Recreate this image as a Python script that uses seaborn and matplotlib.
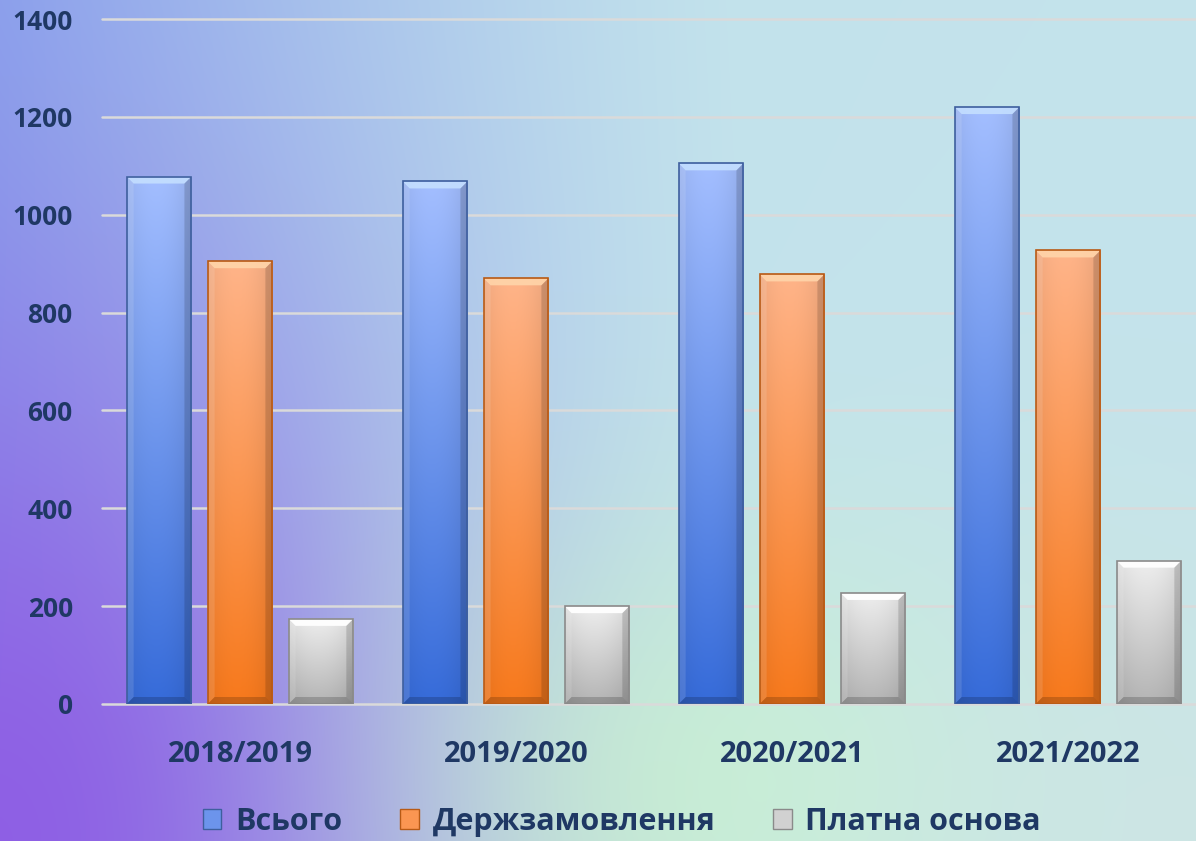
import numpy as np
import pandas as pd
import matplotlib
matplotlib.use("Agg")
import matplotlib.pyplot as plt
import matplotlib.colors as mcolors
from matplotlib.patches import Polygon, Patch
import seaborn as sns

# ---------------- data ----------------
categories = ["2018/2019", "2019/2020", "2020/2021", "2021/2022"]
series_names = ["Всього", "Держзамовлення", "Платна основа"]
total = [1078, 1068, 1105, 1220]
state_order = [905, 870, 878, 927]
paid = [174, 200, 227, 293]
y_ticks = [0, 200, 400, 600, 800, 1000, 1200, 1400]

# ---------------- style ----------------
sns.set_theme(style="white")
plt.rcParams["font.family"] = ["Open Sans", "DejaVu Sans"]
plt.rcParams["font.weight"] = "bold"
text_color = "#1F3864"

grad_top = {"Всього": "#A3BEFF", "Держзамовлення": "#FFB489", "Платна основа": "#EEEEEE"}
grad_bot = {"Всього": "#366BD9", "Держзамовлення": "#F7791C", "Платна основа": "#B4B4B4"}
edge_col = {"Всього": "#3E5F9E", "Держзамовлення": "#B85A15", "Платна основа": "#8A8A8A"}

df = pd.DataFrame({
    "Рік": categories * 3,
    "Серія": sum([[s] * len(categories) for s in series_names], []),
    "Значення": total + state_order + paid,
})

W, H = 1196, 841
fig = plt.figure(figsize=(W / 100, H / 100), dpi=100)

# ---------------- background gradient ----------------
bg_ax = fig.add_axes([0, 0, 1, 1], zorder=-5)
yy, xx = np.mgrid[0:H, 0:W].astype(float)
def rgb(c):
    return np.array(mcolors.to_rgb(c))
img = np.ones((H, W, 3)) * rgb("#C3E3EC")
w_left = np.clip(1 - xx / 750, 0, 1) ** 1.3
img = img * (1 - w_left[..., None]) + rgb("#8CA6EC") * w_left[..., None]
w_g = 0.95 * np.exp(-((xx - 660) ** 2 / (2 * 260 ** 2) + (yy - 790) ** 2 / (2 * 190 ** 2)))
img = img * (1 - w_g[..., None]) + rgb("#C9F3D3") * w_g[..., None]
w_br = 0.6 * np.exp(-((xx - 1196) ** 2 / (2 * 250 ** 2) + (yy - 841) ** 2 / (2 * 250 ** 2)))
img = img * (1 - w_br[..., None]) + rgb("#D2E6E2") * w_br[..., None]
w_p = 0.95 * np.exp(-((xx) ** 2 / (2 * 270 ** 2) + (yy - 841) ** 2 / (2 * 380 ** 2)))
img = img * (1 - w_p[..., None]) + rgb("#8E5CE4") * w_p[..., None]
bg_ax.imshow(img, extent=[0, 1, 0, 1], aspect="auto", origin="upper")
bg_ax.axis("off")

# ---------------- main axes ----------------
ax = fig.add_axes([102 / W, 1 - 704 / H, (1206 - 102) / W, (704 - 19) / H])
ax.set_facecolor("none")
sns.barplot(data=df, x="Рік", y="Значення", hue="Серія", order=categories,
            hue_order=series_names, width=0.88, gap=0.2, ax=ax,
            palette=[grad_bot[s] for s in series_names], legend=False,
            err_kws={"linewidth": 0}, zorder=3)

ax.set_xlim(-0.5, len(categories) - 0.5)
ax.set_ylim(0, 1400)
ax.set_yticks(y_ticks)
ax.set_yticklabels([str(t) for t in y_ticks])
for sp in ax.spines.values():
    sp.set_visible(False)
ax.grid(axis="y", color="#DADADA", linewidth=1.8, zorder=0)
ax.grid(axis="x", visible=False)
for gl in ax.get_ygridlines():
    gl.set_clip_on(False)
ax.tick_params(axis="y", length=0, pad=21, labelsize=19, labelcolor=text_color)
ax.tick_params(axis="x", length=0, pad=26, labelsize=21, labelcolor=text_color)
for lab in ax.get_xticklabels() + ax.get_yticklabels():
    lab.set_fontweight("bold")
ax.set_xlabel("")
ax.set_ylabel("")

# ---------------- gradient / bevel bars ----------------
px_x = 276.0  # pixels per category unit
px_y = (704 - 19) / 1400.0
bx = 7 / px_x
by = 7 / px_y
bars = list(ax.patches)
n_cat = len(categories)
for i, p in enumerate(bars):
    s = series_names[i // n_cat]
    x0, y0 = p.get_x(), p.get_y()
    w, h = p.get_width(), p.get_height()
    top, bot = rgb(grad_top[s]), rgb(grad_bot[s])
    t = np.linspace(0, 1, 200)[:, None]
    col = top * (1 - t[..., None]) + bot * t[..., None]
    hx = np.linspace(0, 1, 60)[None, :]
    shade = 1 - 0.08 * (np.abs(hx - 0.45) * 2) ** 2
    col = np.clip(col * shade[..., None], 0, 1)
    im = ax.imshow(col, extent=[x0, x0 + w, y0, y0 + h], aspect="auto",
                   origin="upper", zorder=4, interpolation="bilinear")
    im.set_clip_path(p)
    p.set_facecolor("none")
    p.set_edgecolor(edge_col[s])
    p.set_linewidth(1.2)
    p.set_zorder(6)
    yt = y0 + h
    light = np.clip(top + 0.12, 0, 1)
    ax.add_patch(Polygon([[x0, yt], [x0 + w, yt], [x0 + w - bx, yt - by], [x0 + bx, yt - by]],
                         closed=True, facecolor=light, edgecolor="none", zorder=5, alpha=0.95))
    ax.add_patch(Polygon([[x0, yt], [x0 + bx, yt - by], [x0 + bx, y0 + by], [x0, y0]],
                         closed=True, facecolor="white", edgecolor="none", zorder=5, alpha=0.12))
    ax.add_patch(Polygon([[x0 + w, yt], [x0 + w - bx, yt - by], [x0 + w - bx, y0 + by], [x0 + w, y0]],
                         closed=True, facecolor="black", edgecolor="none", zorder=5, alpha=0.14))
    ax.add_patch(Polygon([[x0, y0], [x0 + bx, y0 + by], [x0 + w - bx, y0 + by], [x0 + w, y0]],
                         closed=True, facecolor="black", edgecolor="none", zorder=5, alpha=0.18))

ax.set_xlim(-0.5, len(categories) - 0.5)
ax.set_ylim(0, 1400)

# ---------------- legend ----------------
handles = [Patch(facecolor=mcolors.to_hex((rgb(grad_top[s]) + rgb(grad_bot[s])) / 2),
                 edgecolor=edge_col[s], linewidth=1.0) for s in series_names]
leg = fig.legend(handles, series_names, loc="center", bbox_to_anchor=(0.52, 0.023),
                 ncol=3, frameon=False, fontsize=22, handlelength=0.6, handleheight=0.6,
                 handletextpad=0.45, columnspacing=1.9, borderaxespad=0)
for txt in leg.get_texts():
    txt.set_color(text_color)
    txt.set_fontweight("bold")

fig.savefig("out.png", dpi=100)
